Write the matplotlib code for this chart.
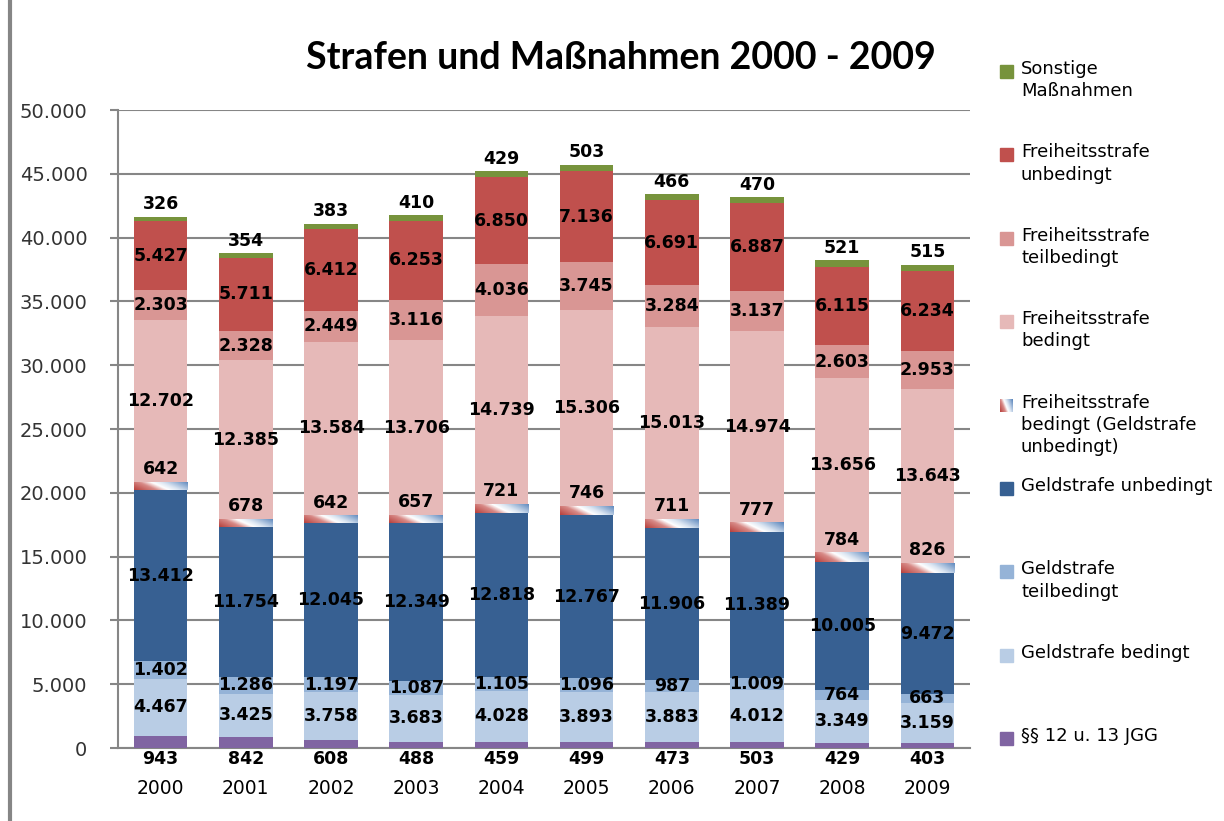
import matplotlib
matplotlib.use("Agg")
import matplotlib.pyplot as plt
import numpy as np
from matplotlib.colors import LinearSegmentedColormap
from matplotlib.lines import Line2D
from matplotlib.patches import Rectangle

plt.rcParams['font.family'] = ['DejaVu Sans']

years = ["2000", "2001", "2002", "2003", "2004", "2005", "2006", "2007", "2008", "2009"]

jgg = [943, 842, 608, 488, 459, 499, 473, 503, 429, 403]
geld_bedingt = [4467, 3425, 3758, 3683, 4028, 3893, 3883, 4012, 3349, 3159]
geld_teil = [1402, 1286, 1197, 1087, 1105, 1096, 987, 1009, 764, 663]
geld_unbedingt = [13412, 11754, 12045, 12349, 12818, 12767, 11906, 11389, 10005, 9472]
frei_bed_geld = [642, 678, 642, 657, 721, 746, 711, 777, 784, 826]
frei_bedingt = [12702, 12385, 13584, 13706, 14739, 15306, 15013, 14974, 13656, 13643]
frei_teil = [2303, 2328, 2449, 3116, 4036, 3745, 3284, 3137, 2603, 2953]
frei_unbedingt = [5427, 5711, 6412, 6253, 6850, 7136, 6691, 6887, 6115, 6234]
sonstige = [326, 354, 383, 410, 429, 503, 466, 470, 521, 515]

series = [
    ("§§ 12 u. 13 JGG", jgg, "#8064A2"),
    ("Geldstrafe bedingt", geld_bedingt, "#B9CDE5"),
    ("Geldstrafe\nteilbedingt", geld_teil, "#95B3D7"),
    ("Geldstrafe unbedingt", geld_unbedingt, "#376092"),
    ("Freiheitsstrafe\nbedingt (Geldstrafe\nunbedingt)", frei_bed_geld, None),
    ("Freiheitsstrafe\nbedingt", frei_bedingt, "#E6B9B8"),
    ("Freiheitsstrafe\nteilbedingt", frei_teil, "#D99694"),
    ("Freiheitsstrafe\nunbedingt", frei_unbedingt, "#C0504D"),
    ("Sonstige\nMaßnahmen", sonstige, "#77933C"),
]


def fmt(v):
    return f"{v:,}".replace(",", ".")


grad_cmap = LinearSegmentedColormap.from_list(
    "grad", [(0, "#B8433F"), (0.3, "#D88A87"), (0.47, "#FFFFFF"),
             (0.62, "#DCE6F2"), (1, "#5B86BC")])

fig = plt.figure(figsize=(12.24, 8.21), dpi=100)
ax = fig.add_axes([0.0964, 0.0889, 0.6961, 0.7771])

x = np.arange(len(years))
width = 0.63
bottom = np.zeros(len(years))
containers = []
for name, vals, color in series:
    vals = np.array(vals)
    if color is None:
        bars = ax.bar(x, vals, width, bottom=bottom, color="none", zorder=3)
        g = np.linspace(0, 1, 60)[None, :] + 0.35 * np.linspace(0, 1, 10)[:, None]
        g = g / g.max()
        for b in bars:
            im = ax.imshow(g, extent=[b.get_x(), b.get_x() + b.get_width(),
                                      b.get_y(), b.get_y() + b.get_height()],
                           origin="lower", aspect="auto", cmap=grad_cmap,
                           interpolation="bilinear", zorder=3)
            im.set_clip_path(b)
    else:
        bars = ax.bar(x, vals, width, bottom=bottom, color=color, zorder=3)
    containers.append((name, vals, bottom.copy(), bars))
    bottom = bottom + vals

lab_kw = dict(ha="center", va="center", fontsize=12.5, fontweight="bold", color="black", zorder=5)
for idx, (name, vals, bot, bars) in enumerate(containers):
    for i in range(len(years)):
        v = vals[i]
        if idx == 0:
            ax.annotate(fmt(v), (x[i], 0), xytext=(0, -8), textcoords="offset points", **lab_kw)
        elif idx == 4 or idx == len(containers) - 1:
            ax.annotate(fmt(v), (x[i], bot[i] + v), xytext=(0, 9), textcoords="offset points", **lab_kw)
        else:
            ax.annotate(fmt(v), (x[i], bot[i] + v / 2), **lab_kw)

ax.set_xlim(-0.5, len(years) - 0.5)
ax.set_ylim(0, 50000)
ax.set_yticks(np.arange(0, 50001, 5000))
ax.set_yticklabels([fmt(t) for t in range(0, 50001, 5000)], fontsize=14, color="#333333")
ax.set_xticks(x)
ax.set_xticklabels(years, fontsize=13.5)
ax.tick_params(axis="x", length=0, pad=22)
ax.tick_params(axis="y", length=6, width=1.5, color="#868686", pad=16)
ax.yaxis.grid(True, color="#868686", linewidth=1.5, zorder=0)
ax.set_axisbelow(True)
for s in ["top", "right"]:
    ax.spines[s].set_visible(False)
for s in ["left", "bottom"]:
    ax.spines[s].set_color("#868686")
    ax.spines[s].set_linewidth(1.5)

fig.text(0.507, 0.929, "Strafen und Maßnahmen 2000 - 2009", ha="center", va="center",
         fontsize=27, fontweight="bold", family="Lato")

# legend drawn by hand so entries are evenly spaced like the original
leg_order = list(reversed(containers))
y0 = 1 - 65 / 821
step = 83.4 / 821
for k, (name, vals, bot, bars) in enumerate(leg_order):
    yy = y0 - k * step
    color = series[len(series) - 1 - k][2]
    if color is None:
        sq = fig.add_axes([1000 / 1224, yy - 13 / 821, 13 / 1224, 13 / 821])
        sq.imshow(np.linspace(0, 1, 20)[None, :] + 0.4 * np.linspace(0, 1, 20)[:, None],
                  cmap=grad_cmap, origin="lower", aspect="auto")
        sq.axis("off")
    else:
        fig.patches.append(Rectangle((1000 / 1224, yy - 13 / 821), 13 / 1224, 13 / 821,
                                     transform=fig.transFigure, color=color))
    fig.text(1021 / 1224, yy + 5 / 821, name, ha="left", va="top", fontsize=13,
             linespacing=1.3)

fig.add_artist(Line2D([10 / 1224, 10 / 1224], [0, 1], transform=fig.transFigure,
                      color="#868686", linewidth=3))

fig.savefig("out.png", dpi=100)
